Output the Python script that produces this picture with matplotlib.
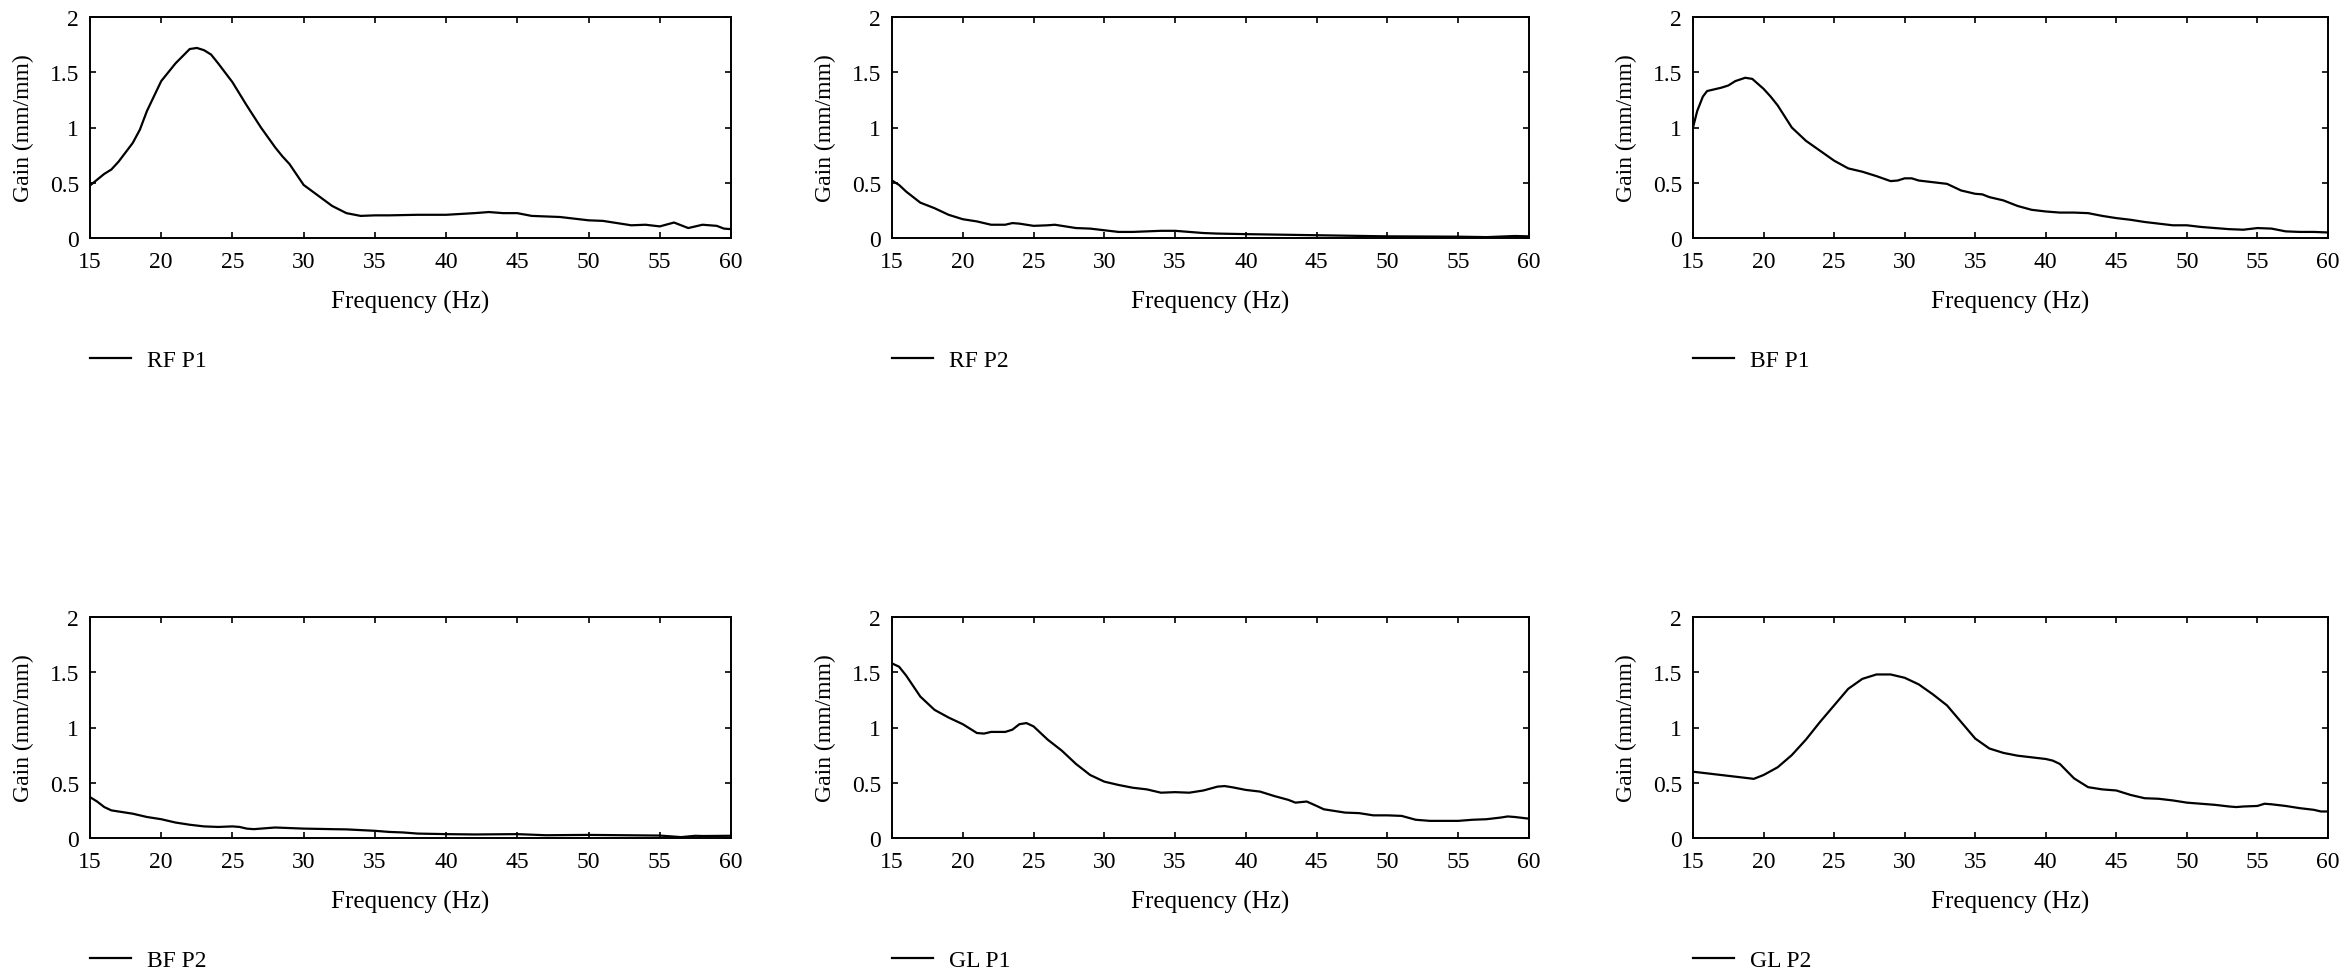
import matplotlib
matplotlib.use("Agg")
import matplotlib.pyplot as plt

plt.rcParams['font.family'] = ['Liberation Serif', 'DejaVu Serif']

# gain curves (frequency in Hz, gain in mm/mm)
rf_p1_f = [15, 16, 16.5, 17, 18, 18.5, 19, 20, 21, 22, 22.5, 23, 23.5, 24, 25, 26, 27, 28, 28.5,
           29, 30, 31, 32, 33, 34, 35, 36, 38, 40, 42, 43, 44, 45, 46, 48, 50, 51, 52, 53, 54,
           55, 56, 57, 58, 59, 59.5, 60]
rf_p1_g = [0.475, 0.58, 0.62, 0.69, 0.86, 0.98, 1.15, 1.42, 1.58, 1.71, 1.72, 1.70, 1.66, 1.58,
           1.41, 1.20, 1.00, 0.82, 0.74, 0.67, 0.48, 0.385, 0.29, 0.225, 0.20, 0.205, 0.205, 0.21,
           0.21, 0.225, 0.235, 0.225, 0.225, 0.20, 0.19, 0.16, 0.155, 0.135, 0.115, 0.12, 0.105,
           0.14, 0.09, 0.12, 0.11, 0.085, 0.08]

rf_p2_f = [15, 15.5, 16, 17, 18, 19, 20, 21, 22, 23, 23.5, 24, 25, 26, 26.5, 27, 28, 29, 30, 31,
           32, 33, 34, 35, 36, 37, 38, 40, 45, 50, 55, 57, 59, 60]
rf_p2_g = [0.52, 0.48, 0.42, 0.32, 0.27, 0.21, 0.17, 0.15, 0.12, 0.12, 0.135, 0.13, 0.11, 0.115,
           0.12, 0.11, 0.09, 0.085, 0.07, 0.055, 0.055, 0.06, 0.065, 0.065, 0.055, 0.045, 0.04,
           0.035, 0.025, 0.015, 0.012, 0.008, 0.018, 0.015]

bf_p1_f = [15, 15.3, 15.7, 16, 17, 17.5, 18, 18.7, 19.2, 20, 20.5, 21, 22, 23, 24, 25, 26, 27,
           28, 29, 29.5, 30, 30.5, 31, 32, 33, 34, 35, 35.5, 36, 37, 38, 39, 40, 41, 42, 43, 44,
           45, 46, 47, 48, 49, 50, 51, 52, 53, 54, 55, 56, 57, 58, 59, 60]
bf_p1_g = [1.0, 1.15, 1.28, 1.33, 1.36, 1.38, 1.42, 1.45, 1.44, 1.35, 1.28, 1.20, 1.0, 0.88,
           0.79, 0.70, 0.63, 0.60, 0.56, 0.515, 0.52, 0.54, 0.54, 0.52, 0.505, 0.49, 0.43, 0.40,
           0.395, 0.37, 0.34, 0.29, 0.255, 0.24, 0.23, 0.23, 0.225, 0.20, 0.18, 0.165, 0.145,
           0.13, 0.115, 0.115, 0.10, 0.09, 0.08, 0.075, 0.09, 0.085, 0.06, 0.055, 0.055, 0.05]

bf_p2_f = [15, 15.5, 16, 16.5, 17, 18, 19, 20, 21, 22, 23, 24, 25, 25.5, 26, 26.5, 27, 28, 29,
           30, 32, 33, 35, 36, 37, 38, 40, 42, 45, 47, 50, 55, 56.5, 57.5, 58, 60]
bf_p2_g = [0.37, 0.33, 0.28, 0.25, 0.24, 0.22, 0.19, 0.17, 0.14, 0.12, 0.105, 0.10, 0.105, 0.10,
           0.085, 0.08, 0.085, 0.095, 0.09, 0.085, 0.08, 0.078, 0.065, 0.055, 0.05, 0.04, 0.035,
           0.032, 0.035, 0.025, 0.028, 0.022, 0.008, 0.02, 0.018, 0.02]

gl_p1_f = [15, 15.5, 16, 17, 18, 19, 20, 21, 21.5, 22, 23, 23.5, 24, 24.5, 25, 26, 27, 28, 29,
           30, 31, 32, 33, 34, 35, 36, 37, 38, 38.5, 39, 40, 41, 42, 43, 43.5, 44.3, 45, 45.5,
           46, 47, 48, 49, 50, 51, 52, 53, 55, 56, 57, 58, 58.5, 59, 60]
gl_p1_g = [1.58, 1.55, 1.47, 1.28, 1.16, 1.09, 1.03, 0.95, 0.945, 0.96, 0.96, 0.98, 1.03, 1.04,
           1.01, 0.89, 0.79, 0.67, 0.57, 0.51, 0.48, 0.455, 0.44, 0.41, 0.415, 0.41, 0.43, 0.465,
           0.47, 0.46, 0.435, 0.42, 0.38, 0.345, 0.32, 0.33, 0.29, 0.26, 0.25, 0.23, 0.225, 0.205,
           0.205, 0.20, 0.165, 0.155, 0.155, 0.165, 0.17, 0.185, 0.195, 0.19, 0.175]

gl_p2_f = [15, 17, 19, 19.3, 20, 21, 22, 23, 24, 25, 26, 27, 28, 29, 30, 31, 32, 33, 34, 35,
           36, 37, 38, 39, 40, 40.5, 41, 42, 43, 44, 45, 46, 47, 48, 49, 50, 51, 52, 53, 53.5,
           54, 55, 55.5, 56, 57, 58, 59, 59.5, 60]
gl_p2_g = [0.60, 0.57, 0.54, 0.535, 0.57, 0.64, 0.75, 0.89, 1.05, 1.20, 1.35, 1.44, 1.48, 1.48,
           1.45, 1.39, 1.30, 1.20, 1.05, 0.90, 0.81, 0.77, 0.745, 0.73, 0.715, 0.70, 0.67, 0.54,
           0.46, 0.44, 0.43, 0.39, 0.36, 0.355, 0.34, 0.32, 0.31, 0.30, 0.285, 0.28, 0.285, 0.29,
           0.31, 0.305, 0.29, 0.27, 0.255, 0.24, 0.24]

labels = ['RF P1', 'RF P2', 'BF P1', 'BF P2', 'GL P1', 'GL P2']
freqs = [rf_p1_f, rf_p2_f, bf_p1_f, bf_p2_f, gl_p1_f, gl_p2_f]
gains = [rf_p1_g, rf_p2_g, bf_p1_g, bf_p2_g, gl_p1_g, gl_p2_g]

x_ticks = [15, 20, 25, 30, 35, 40, 45, 50, 55, 60]
y_ticks = [0, 0.5, 1, 1.5, 2]
y_tick_labels = ['0', '0.5', '1', '1.5', '2']

fig = plt.figure(figsize=(23.48, 9.7), dpi=100)

lefts = [90, 892, 1693]
widths = [641, 637, 635]
tops = [18, 618]
ax_h = 221

for i in range(6):
    r, c = divmod(i, 3)
    ax = fig.add_axes([lefts[c] / 2348, 1 - (tops[r] + ax_h) / 970, widths[c] / 2348, ax_h / 970])
    ax.plot(freqs[i], gains[i], color='black', lw=1.6, label=labels[i])
    ax.set_xlim(15, 60)
    ax.set_ylim(0, 2)
    ax.set_xticks(x_ticks)
    ax.set_yticks(y_ticks)
    ax.set_yticklabels(y_tick_labels)
    ax.tick_params(direction='in', top=True, right=True, length=4.5, width=1.2, labelsize=17)
    ax.tick_params(axis='x', pad=9)
    ax.tick_params(axis='y', pad=8)
    for s in ax.spines.values():
        s.set_linewidth(1.4)
    ax.set_xlabel('Frequency (Hz)', fontsize=18, labelpad=13)
    ax.set_ylabel('Gain (mm/mm)', fontsize=17, labelpad=11)
    ax.legend(loc='center left', bbox_to_anchor=(0, -0.555), frameon=False, fontsize=17,
              borderaxespad=0, borderpad=0, handlelength=1.75, handletextpad=0.65)

fig.savefig('out.png', dpi=100)
